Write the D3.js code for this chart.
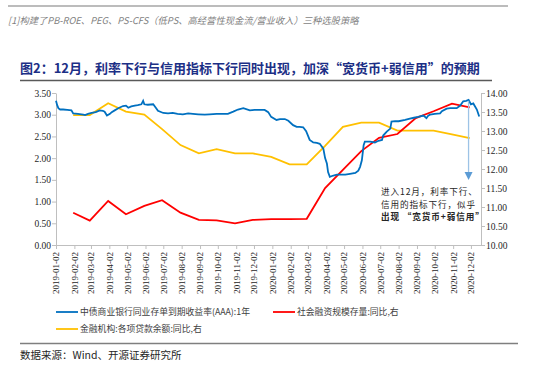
<!DOCTYPE html>
<html><head><meta charset="utf-8">
<script src="https://cdn.jsdelivr.net/npm/d3@7/dist/d3.min.js"></script>
<style>body{margin:0;background:#fff;}svg{display:block;}</style>
</head><body><svg id="c" width="550" height="381"></svg>
<script>
// ---- data ----
const blueDates = ["2019-01-02","2019-01-04","2019-01-06","2019-01-09","2019-01-14","2019-01-21","2019-01-28","2019-01-31","2019-02-08","2019-02-17","2019-02-20","2019-02-25","2019-03-03","2019-03-10","2019-03-17","2019-03-22","2019-03-25","2019-03-29","2019-04-03","2019-04-06","2019-04-11","2019-04-17","2019-04-25","2019-04-30","2019-05-04","2019-05-09","2019-05-15","2019-05-20","2019-05-26","2019-05-29","2019-05-31","2019-06-06","2019-06-15","2019-06-20","2019-06-23","2019-07-02","2019-07-10","2019-07-18","2019-07-26","2019-08-04","2019-08-13","2019-08-21","2019-08-30","2019-09-10","2019-09-18","2019-09-30","2019-10-09","2019-10-19","2019-10-28","2019-11-05","2019-11-14","2019-11-25","2019-12-03","2019-12-12","2019-12-20","2019-12-26","2019-12-31","2020-01-09","2020-01-15","2020-01-23","2020-01-29","2020-02-06","2020-02-12","2020-02-17","2020-02-23","2020-02-28","2020-03-05","2020-03-11","2020-03-17","2020-03-22","2020-03-28","2020-03-31","2020-04-03","2020-04-05","2020-04-08","2020-04-14","2020-04-20","2020-04-27","2020-05-04","2020-05-12","2020-05-21","2020-05-26","2020-05-29","2020-06-01","2020-06-04","2020-06-06","2020-06-15","2020-06-23","2020-06-29","2020-07-05","2020-07-07","2020-07-13","2020-07-19","2020-07-21","2020-07-27","2020-08-02","2020-08-13","2020-08-21","2020-08-28","2020-09-04","2020-09-13","2020-09-18","2020-09-21","2020-09-24","2020-10-02","2020-10-11","2020-10-14","2020-10-22","2020-10-28","2020-11-08","2020-11-14","2020-11-19","2020-11-24","2020-11-28","2020-12-02","2020-12-06","2020-12-12","2020-12-16"];
const blueValues = [3.32,3.22,3.15,3.12,3.12,3.11,3.10,3.03,3.02,3.00,2.99,3.02,3.04,3.06,3.10,3.09,3.07,2.98,3.02,3.06,3.10,3.15,3.20,3.21,3.16,3.19,3.21,3.22,3.24,3.32,3.24,3.23,3.24,3.15,3.09,3.04,3.03,3.04,3.02,3.01,3.03,3.02,3.01,3.00,3.01,3.02,3.02,3.02,3.07,3.12,3.15,3.10,3.11,3.11,3.11,3.06,2.95,2.88,2.90,2.90,2.86,2.76,2.72,2.72,2.71,2.62,2.42,2.36,2.35,2.33,2.22,2.00,1.88,1.68,1.57,1.60,1.62,1.62,1.62,1.64,1.66,1.71,1.80,1.95,2.30,2.38,2.38,2.36,2.40,2.42,2.52,2.61,2.68,2.84,2.85,2.85,2.88,2.91,2.93,2.95,2.98,2.92,2.98,3.00,3.02,3.03,3.08,3.14,3.15,3.15,3.21,3.31,3.32,3.34,3.24,3.26,3.12,2.96];
const monthDates = ["2019-01-31","2019-02-28","2019-03-31","2019-04-30","2019-05-31","2019-06-30","2019-07-31","2019-08-31","2019-09-30","2019-10-31","2019-11-30","2019-12-31","2020-01-31","2020-02-29","2020-03-31","2020-04-30","2020-05-31","2020-06-30","2020-07-31","2020-08-31","2020-09-30","2020-10-31","2020-11-30"];
const redValues = [10.85,10.64,11.16,10.81,11.03,11.18,10.85,10.66,10.65,10.57,10.66,10.68,10.68,10.69,11.50,11.98,12.47,12.82,12.92,13.34,13.52,13.72,13.62];
const yellowValues = [13.42,13.42,13.73,13.51,13.43,13.05,12.63,12.41,12.52,12.41,12.41,12.32,12.12,12.12,12.61,13.11,13.22,13.22,13.01,13.01,13.01,12.91,12.81];
const xTickLabels = ["2019-01-02","2019-02-02","2019-03-02","2019-04-02","2019-05-02","2019-06-02","2019-07-02","2019-08-02","2019-09-02","2019-10-02","2019-11-02","2019-12-02","2020-01-02","2020-02-02","2020-03-02","2020-04-02","2020-05-02","2020-06-02","2020-07-02","2020-08-02","2020-09-02","2020-10-02","2020-11-02","2020-12-02"];
const leftTicks = [0,0.5,1,1.5,2,2.5,3,3.5];
const rightTicks = [10,10.5,11,11.5,12,12.5,13,13.5,14];
const seriesNames = ["中债商业银行同业存单到期收益率(AAA):1年","社会融资规模存量:同比,右","金融机构:各项贷款余额:同比,右"];
const headerText = "[1]构建了PB-ROE、PEG、PS-CFS（低PS、高经营性现金流/营业收入）三种选股策略";
const titleText = "图2：12月，利率下行与信用指标下行同时出现，加深“宽货币+弱信用”的预期";
const noteLines = ["进入12月，利率下行、","信用的指标下行，似乎","出现 “宽货币+弱信用”"];
const sourceText = "数据来源：Wind、开源证券研究所";

// ---- drawing ----
const parse = d3.timeParse("%Y-%m-%d");
const svg = d3.select("#c");
const cjk = "'Noto Sans CJK SC', sans-serif";
const serif = "'Liberation Serif', 'Times New Roman', serif";

const x = d3.scaleTime().domain([parse("2019-01-02"), parse("2020-12-19")]).range([56, 481]);
const yL = d3.scaleLinear().domain([0, 3.5]).range([245, 93]);
const yR = d3.scaleLinear().domain([10, 14]).range([245, 93]);

// header
svg.append("line").attr("x1",8).attr("x2",508).attr("y1",6).attr("y2",6).attr("stroke","#a6a6a6").attr("stroke-width",1.5);
svg.append("text").attr("x",8).attr("y",23.5).text(headerText)
  .attr("font-family",cjk).attr("font-size",9.3).attr("font-style","italic").attr("fill","#7f7f7f");
svg.append("text").attr("x",20).attr("y",73).text(titleText)
  .attr("font-family",cjk).attr("font-size",13).attr("font-weight","bold").attr("fill","#1c2f86");
svg.append("line").attr("x1",20).attr("x2",492).attr("y1",80.5).attr("y2",80.5).attr("stroke","#595959").attr("stroke-width",1.5);

// axes
const axisColor = "#bfbfbf";
const gx = svg.append("g").attr("transform","translate(0,245)")
  .call(d3.axisBottom(x).tickValues(xTickLabels.map(parse)).tickSize(4).tickSizeOuter(0).tickFormat((d,i)=>xTickLabels[i]));
gx.selectAll("text").attr("transform","rotate(-90)").attr("text-anchor","end").attr("x",-7).attr("y",0).attr("dy","0.32em")
  .attr("font-family",serif).attr("font-size",9).attr("fill","#262626");
const gl = svg.append("g").attr("transform","translate(56,0)")
  .call(d3.axisLeft(yL).tickValues(leftTicks).tickSize(4).tickSizeOuter(0).tickFormat(d3.format(".2f")));
gl.selectAll("text").attr("font-family",serif).attr("font-size",9.5).attr("fill","#262626").attr("x",-5);
const gr = svg.append("g").attr("transform","translate(481,0)")
  .call(d3.axisRight(yR).tickValues(rightTicks).tickSize(4).tickSizeOuter(0).tickFormat(d3.format(".2f")));
gr.selectAll("text").attr("font-family",serif).attr("font-size",9.5).attr("fill","#262626").attr("x",5);
[gx,gl,gr].forEach(g=>{g.selectAll("path,line").attr("stroke",axisColor);});

// lines
const blue = blueDates.map((d,i)=>({d:parse(d),v:blueValues[i]}));
const red = monthDates.map((d,i)=>({d:parse(d),v:redValues[i]}));
const yel = monthDates.map((d,i)=>({d:parse(d),v:yellowValues[i]}));
svg.append("path").datum(yel).attr("fill","none").attr("stroke","#ffc000").attr("stroke-width",1.8)
  .attr("d",d3.line().x(p=>x(p.d)).y(p=>yR(p.v)));
svg.append("path").datum(red).attr("fill","none").attr("stroke","#ff0000").attr("stroke-width",1.8)
  .attr("d",d3.line().x(p=>x(p.d)).y(p=>yR(p.v)));
svg.append("path").datum(blue).attr("fill","none").attr("stroke","#0070c0").attr("stroke-width",1.8)
  .attr("d",d3.line().x(p=>x(p.d)).y(p=>yL(p.v)));

// arrow annotation
const ax = x(parse("2020-11-28"));
svg.append("line").attr("x1",ax).attr("x2",ax).attr("y1",yL(3.32)).attr("y2",173).attr("stroke","#9dc3e6").attr("stroke-width",1.3);
svg.append("path").attr("d",`M${ax-4},172 L${ax+4},172 L${ax},180 Z`).attr("fill","#5b9bd5");
noteLines.forEach((t,i)=>{
  svg.append("text").attr("x",381).attr("y",195+i*12.7).text(t)
    .attr("font-family",cjk).attr("font-size",8.6).attr("letter-spacing",0.9)
    .attr("font-weight",i===2?"bold":"normal").attr("fill","#262626");
});

// legend
const leg = [{c:"#0070c0",x:56,y:312},{c:"#ff0000",x:273,y:312},{c:"#ffc000",x:56,y:329}];
leg.forEach((l,i)=>{
  svg.append("line").attr("x1",l.x).attr("x2",l.x+22).attr("y1",l.y).attr("y2",l.y).attr("stroke",l.c).attr("stroke-width",1.8);
  svg.append("text").attr("x",l.x+24).attr("y",l.y+3.2).text(seriesNames[i])
    .attr("font-family",cjk).attr("font-size",8.8).attr("fill","#404040");
});

// footer
svg.append("line").attr("x1",20).attr("x2",518).attr("y1",343.5).attr("y2",343.5).attr("stroke","#7f7f7f").attr("stroke-width",1.5);
svg.append("text").attr("x",20).attr("y",359).text(sourceText)
  .attr("font-family",cjk).attr("font-size",10.5).attr("fill","#262626");
</script></body></html>
